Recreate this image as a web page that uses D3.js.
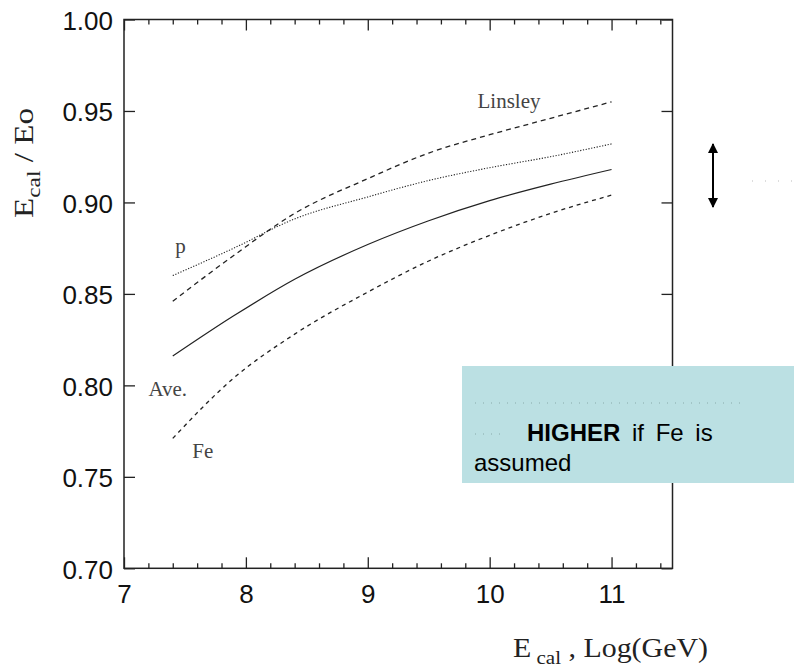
<!DOCTYPE html>
<html>
<head>
<meta charset="utf-8">
<script src="https://cdn.jsdelivr.net/npm/d3@7"></script>
<style>
  body { margin: 0; background: #fff; }
  svg { display: block; }
</style>
</head>
<body>
<div id="vis"></div>
<script>

/* Data */
/* ---- */

var energies = [7.4, 7.9, 8.4, 9.0, 9.5, 10.0, 10.5, 11.0];   // Log(GeV)

var linsley = [0.846, 0.871, 0.894, 0.913, 0.927, 0.937, 0.946, 0.955];
var proton  = [0.860, 0.875, 0.891, 0.903, 0.912, 0.919, 0.925, 0.932];
var average = [0.816, 0.838, 0.858, 0.877, 0.890, 0.901, 0.910, 0.918];
var iron    = [0.771, 0.804, 0.828, 0.851, 0.868, 0.882, 0.894, 0.904];

var xTicks = [7, 8, 9, 10, 11];
var yTicks = [0.70, 0.75, 0.80, 0.85, 0.90, 0.95, 1.00];

var curveLabels = [
  { name: 'Linsley', x: 9.90, y: 0.9517 },
  { name: 'p',       x: 7.42, y: 0.8724 },
  { name: 'Ave.',    x: 7.20, y: 0.7942 },
  { name: 'Fe',      x: 7.56, y: 0.7603 }
];


/* Setup */
/* ----- */

var width = 794, height = 668;
var plot = { left: 124, top: 19.5, right: 672.5, bottom: 568.3 };

var svg = d3.select('#vis').append('svg')
    .attr('width', width)
    .attr('height', height);

var x = d3.scaleLinear().domain([7, 11.5]).range([plot.left, plot.right]);
var y = d3.scaleLinear().domain([0.70, 1.00]).range([plot.bottom, plot.top]);

var minorX = d3.range(7, 11.5001, 0.2).filter(function(d) {
  return Math.abs(d - Math.round(d)) > 0.01;
});

var sans = '"Liberation Sans", Arial, sans-serif';
var serif = '"Liberation Serif", "Times New Roman", serif';


/* Axes */
/* ---- */

function styleAxis(g) {
  g.select('.domain').remove();
  g.selectAll('line').attr('stroke', '#222').attr('stroke-width', 1.3);
  g.selectAll('text')
      .attr('fill', '#111')
      .style('font-family', sans)
      .style('font-size', '26px');
}

// bottom major with labels
svg.append('g')
    .attr('transform', 'translate(0,' + plot.bottom + ')')
    .call(d3.axisBottom(x).tickValues(xTicks).tickSize(-11).tickPadding(16).tickFormat(d3.format('d')))
    .call(styleAxis);

// bottom minor
svg.append('g')
    .attr('transform', 'translate(0,' + plot.bottom + ')')
    .call(d3.axisBottom(x).tickValues(minorX).tickSize(-5).tickFormat(''))
    .call(styleAxis);

// top major + minor
svg.append('g')
    .attr('transform', 'translate(0,' + plot.top + ')')
    .call(d3.axisTop(x).tickValues(xTicks).tickSize(-11).tickFormat(''))
    .call(styleAxis);

svg.append('g')
    .attr('transform', 'translate(0,' + plot.top + ')')
    .call(d3.axisTop(x).tickValues(minorX).tickSize(-5).tickFormat(''))
    .call(styleAxis);

// left with labels
svg.append('g')
    .attr('transform', 'translate(' + plot.left + ',0)')
    .call(d3.axisLeft(y).tickValues(yTicks).tickSize(-11).tickPadding(11).tickFormat(d3.format('.2f')))
    .call(styleAxis)
    .selectAll('text').attr('dy', '0.38em');

// right
svg.append('g')
    .attr('transform', 'translate(' + plot.right + ',0)')
    .call(d3.axisRight(y).tickValues(yTicks).tickSize(-11).tickFormat(''))
    .call(styleAxis);

// frame
svg.append('rect')
    .attr('x', plot.left)
    .attr('y', plot.top)
    .attr('width', plot.right - plot.left)
    .attr('height', plot.bottom - plot.top)
    .attr('fill', 'none')
    .attr('stroke', '#222')
    .attr('stroke-width', 1.5);


/* Curves */
/* ------ */

var line = d3.line()
    .x(function(d) { return x(d[0]); })
    .y(function(d) { return y(d[1]); })
    .curve(d3.curveMonotoneX);

var series = [
  { values: linsley, dash: '5,4',     w: 1.3 },
  { values: proton,  dash: '1.2,1.6', w: 1.1 },
  { values: average, dash: null,      w: 1.2 },
  { values: iron,    dash: '4,4',     w: 1.3 }
];

svg.append('g').attr('id', 'curves-g')
  .selectAll('path')
  .data(series)
  .enter().append('path')
    .attr('d', function(s) { return line(d3.zip(energies, s.values)); })
    .attr('fill', 'none')
    .attr('stroke', '#222')
    .attr('stroke-width', function(s) { return s.w; })
    .attr('stroke-dasharray', function(s) { return s.dash; });

svg.append('g')
  .selectAll('text')
  .data(curveLabels)
  .enter().append('text')
    .attr('x', function(d) { return x(d.x); })
    .attr('y', function(d) { return y(d.y); })
    .attr('fill', '#444')
    .style('font-family', serif)
    .style('font-size', '21px')
    .text(function(d) { return d.name; });


/* Axis titles */
/* ----------- */

var yTitle = svg.append('text')
    .attr('transform', 'translate(33,218) rotate(-90)')
    .attr('fill', '#222')
    .attr('textLength', 110)
    .attr('lengthAdjust', 'spacingAndGlyphs')
    .style('font-family', serif)
    .style('font-size', '27px');
yTitle.append('tspan').text('E');
yTitle.append('tspan').attr('dy', 7).style('font-size', '19px').text('cal');
yTitle.append('tspan').attr('dy', -7).text(' / Eo');

var xTitle = svg.append('text')
    .attr('x', 513)
    .attr('y', 657)
    .attr('fill', '#222')
    .attr('textLength', 195)
    .attr('lengthAdjust', 'spacingAndGlyphs')
    .style('font-family', serif)
    .style('font-size', '27px');
xTitle.append('tspan').text('E');
xTitle.append('tspan').attr('dy', 7).style('font-size', '19px').text(' cal');
xTitle.append('tspan').attr('dy', -7).text(' , Log(GeV)');


/* Annotations */
/* ----------- */

// double arrow
var defs = svg.append('defs');
defs.append('marker')
    .attr('id', 'head')
    .attr('viewBox', '0 0 10 10')
    .attr('refX', 9).attr('refY', 5)
    .attr('markerWidth', 5).attr('markerHeight', 5)
    .attr('orient', 'auto-start-reverse')
  .append('path')
    .attr('d', 'M0,0 L10,5 L0,10 Z')
    .attr('fill', '#000');

svg.append('line')
    .attr('x1', 713).attr('y1', 144)
    .attr('x2', 713).attr('y2', 207)
    .attr('stroke', '#000')
    .attr('stroke-width', 2)
    .attr('marker-start', 'url(#head)')
    .attr('marker-end', 'url(#head)');

svg.append('line')
    .attr('x1', 752).attr('y1', 181)
    .attr('x2', 794).attr('y2', 181)
    .attr('stroke', '#bbb')
    .attr('stroke-width', 1)
    .attr('stroke-dasharray', '1,12');

// note box
var note = svg.append('g').attr('id', 'note-g');

note.append('rect')
    .attr('x', 462).attr('y', 366)
    .attr('width', 794 - 462).attr('height', 117)
    .attr('fill', '#bbe0e3');

note.append('line')
    .attr('x1', 475).attr('y1', 403)
    .attr('x2', 745).attr('y2', 403)
    .attr('stroke', '#8aa')
    .attr('stroke-width', 1)
    .attr('stroke-dasharray', '1,7');

note.append('line')
    .attr('x1', 475).attr('y1', 434)
    .attr('x2', 502).attr('y2', 434)
    .attr('stroke', '#8aa')
    .attr('stroke-width', 1)
    .attr('stroke-dasharray', '1,7');

var noteText = note.append('text')
    .attr('x', 527).attr('y', 441)
    .attr('fill', '#000')
    .style('font-family', sans)
    .style('font-size', '24px')
    .style('word-spacing', '5px');
noteText.append('tspan').style('font-weight', 'bold').text('HIGHER');
noteText.append('tspan').text(' if Fe is');

note.append('text')
    .attr('x', 474).attr('y', 471)
    .attr('fill', '#000')
    .style('font-family', sans)
    .style('font-size', '24px')
    .text('assumed');

</script>
</body>
</html>
